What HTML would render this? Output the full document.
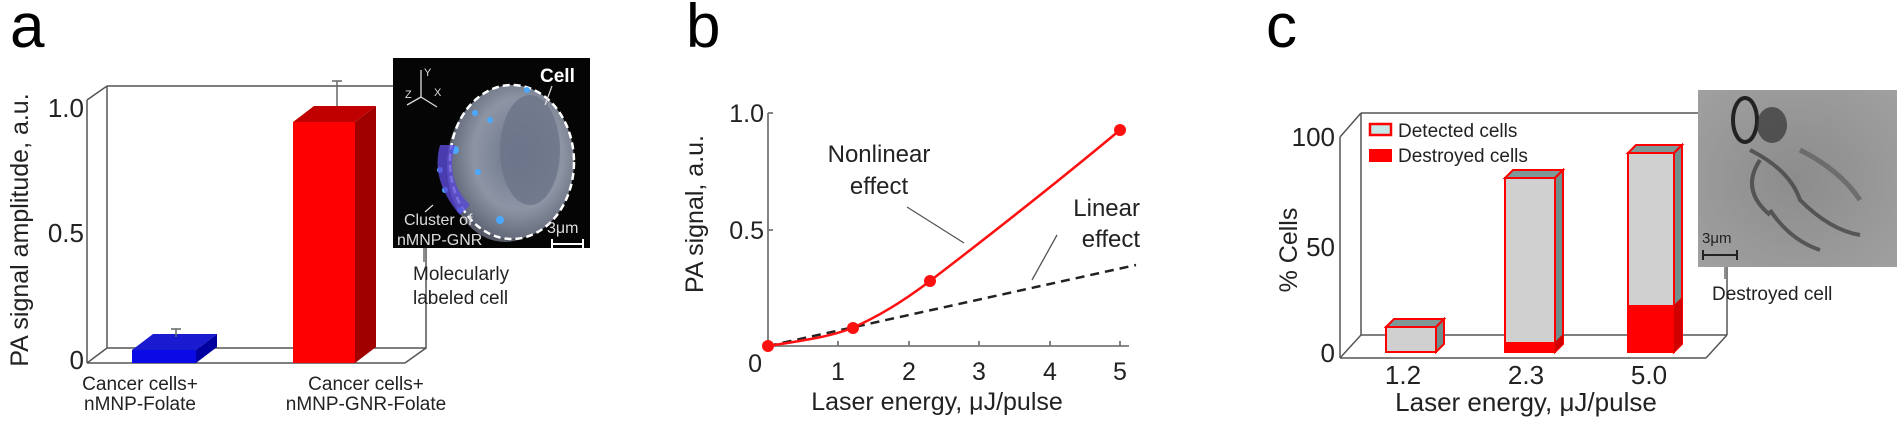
<!DOCTYPE html>
<html><head><meta charset="utf-8"><style>
html,body{margin:0;padding:0;background:#fff;}
svg{display:block;font-family:"Liberation Sans",Arial,sans-serif;}
</style></head><body>
<svg width="1897" height="422" viewBox="0 0 1897 422" xmlns="http://www.w3.org/2000/svg">
<defs>
<radialGradient id="cellg" cx="0.55" cy="0.45" r="0.6">
<stop offset="0" stop-color="#6a7488"/><stop offset="0.6" stop-color="#8d95a5"/><stop offset="1" stop-color="#5a6070"/>
</radialGradient>
<radialGradient id="photo" cx="0.5" cy="0.5" r="0.7">
<stop offset="0" stop-color="#8c8c8c"/><stop offset="1" stop-color="#a0a0a0"/>
</radialGradient>
</defs>

<!-- ========== Panel a ========== -->
<text x="10" y="47" font-size="62">a</text>
<g stroke="#555" stroke-width="1.5" fill="none">
<polyline points="107,86 426,86 426,348 107,348 107,86"/>
<line x1="87" y1="100" x2="87" y2="363"/>
<line x1="87" y1="100" x2="107" y2="86"/>
<line x1="87" y1="363" x2="405" y2="363"/>
<line x1="87" y1="363" x2="107" y2="348"/>
<line x1="405" y1="363" x2="426" y2="348"/>
</g>
<g font-size="26" text-anchor="end" fill="#222">
<text x="84" y="117">1.0</text>
<text x="84" y="242">0.5</text>
<text x="84" y="369">0</text>
</g>
<text transform="translate(28,230) rotate(-90)" font-size="25" text-anchor="middle" fill="#222">PA signal amplitude, a.u.</text>
<!-- blue bar -->
<polygon points="132,350 153,334 217,334 196,350" fill="#1a1ad0"/>
<polygon points="196,350 217,334 217,347 196,363" fill="#0000a0"/>
<rect x="132" y="350" width="64" height="13" fill="#0a0ae6"/>
<line x1="176" y1="337" x2="176" y2="329" stroke="#666" stroke-width="1.5"/>
<line x1="171" y1="329" x2="181" y2="329" stroke="#666" stroke-width="1.5"/>
<!-- red bar -->
<polygon points="293,122 314,106 376,106 355,122" fill="#c00000"/>
<polygon points="355,122 376,106 376,347 355,363" fill="#a00000"/>
<rect x="293" y="122" width="62" height="241" fill="#ff0000"/>
<line x1="337" y1="106" x2="337" y2="81" stroke="#666" stroke-width="1.5"/>
<line x1="332" y1="81" x2="342" y2="81" stroke="#666" stroke-width="1.5"/>
<g font-size="19" text-anchor="middle" fill="#222">
<text x="140" y="390">Cancer cells+</text>
<text x="140" y="410">nMNP-Folate</text>
<text x="366" y="390">Cancer cells+</text>
<text x="366" y="410">nMNP-GNR-Folate</text>
</g>
<!-- inset -->
<rect x="393" y="58" width="197" height="190" fill="#050505"/>
<ellipse cx="505" cy="166" rx="58" ry="76" fill="#555a66"/>
<ellipse cx="512" cy="162" rx="62" ry="77" fill="url(#cellg)"/>
<ellipse cx="530" cy="150" rx="30" ry="55" fill="#6b7488" opacity="0.8"/>
<ellipse cx="512" cy="162" rx="62" ry="77" fill="none" stroke="#fff" stroke-width="2.5" stroke-dasharray="7,4"/>
<g fill="#4aa8ff">
<circle cx="475" cy="113" r="3"/><circle cx="490" cy="120" r="3"/><circle cx="478" cy="172" r="3"/>
<circle cx="455" cy="150" r="4"/><circle cx="440" cy="170" r="3"/><circle cx="445" cy="190" r="3"/>
<circle cx="500" cy="220" r="4"/><circle cx="527" cy="90" r="3"/><circle cx="460" cy="210" r="3"/>
</g>
<path d="M440,145 Q430,180 460,215 L470,205 Q445,180 455,145 Z" fill="#5a4ad8" opacity="0.8"/>
<g stroke="#ddd" stroke-width="1.3">
<line x1="421" y1="70" x2="421" y2="97"/><line x1="421" y1="97" x2="437" y2="107"/><line x1="421" y1="97" x2="407" y2="105"/>
</g>
<text x="424" y="76" font-size="11" fill="#ddd">Y</text>
<text x="405" y="98" font-size="11" fill="#ddd">Z</text>
<text x="434" y="96" font-size="11" fill="#ddd">X</text>
<text x="540" y="82" font-size="19" font-weight="bold" fill="#fff">Cell</text>
<line x1="552" y1="86" x2="545" y2="105" stroke="#ddd" stroke-width="1.2"/>
<text x="404" y="225" font-size="16" fill="#ddd">Cluster of</text>
<text x="397" y="245" font-size="16" fill="#ddd">nMNP-GNR</text>
<line x1="433" y1="205" x2="425" y2="212" stroke="#ddd" stroke-width="1.2"/>
<text x="547" y="233" font-size="16" fill="#ddd">3μm</text>
<g stroke="#fff" stroke-width="2"><line x1="552" y1="244" x2="583" y2="244"/><line x1="552" y1="239" x2="552" y2="249"/><line x1="583" y1="239" x2="583" y2="249"/></g>
<line x1="424" y1="248" x2="424" y2="262" stroke="#555" stroke-width="1.3"/>
<text x="413" y="280" font-size="19" fill="#222">Molecularly</text>
<text x="413" y="304" font-size="19" fill="#222">labeled cell</text>

<!-- ========== Panel b ========== -->
<text x="686" y="47" font-size="62">b</text>
<g stroke="#777" stroke-width="1.8">
<line x1="768" y1="113" x2="768" y2="347"/>
<line x1="768" y1="346" x2="1129" y2="346"/>
<line x1="838" y1="346" x2="838" y2="341"/><line x1="909" y1="346" x2="909" y2="341"/>
<line x1="979" y1="346" x2="979" y2="341"/><line x1="1050" y1="346" x2="1050" y2="341"/><line x1="1120" y1="346" x2="1120" y2="341"/>
<line x1="768" y1="113" x2="773" y2="113"/><line x1="768" y1="230" x2="773" y2="230"/>
</g>
<g font-size="25" text-anchor="end" fill="#222">
<text x="764" y="122">1.0</text>
<text x="764" y="239">0.5</text>
<text x="762" y="372">0</text>
</g>
<g font-size="25" text-anchor="middle" fill="#222">
<text x="838" y="380">1</text><text x="909" y="380">2</text><text x="979" y="380">3</text><text x="1050" y="380">4</text><text x="1120" y="380">5</text>
<text x="937" y="410">Laser energy, μJ/pulse</text>
</g>
<text transform="translate(703,214) rotate(-90)" font-size="25" text-anchor="middle" fill="#222">PA signal, a.u.</text>
<line x1="768" y1="346" x2="1136" y2="265" stroke="#222" stroke-width="2.5" stroke-dasharray="9,6"/>
<path d="M768,346 C800,341 830,337 852,328 C880,316 905,300 930,281 C990,235 1060,180 1120,130" fill="none" stroke="#ff1010" stroke-width="2.5"/>
<g fill="#ff1010"><circle cx="768" cy="346" r="6"/><circle cx="853" cy="328" r="6"/><circle cx="930" cy="281" r="6"/><circle cx="1120" cy="130" r="6"/></g>
<g font-size="24" text-anchor="middle" fill="#222">
<text x="879" y="162">Nonlinear</text><text x="879" y="194">effect</text>
</g>
<line x1="907" y1="207" x2="964" y2="243" stroke="#555" stroke-width="1.3"/>
<g font-size="24" text-anchor="end" fill="#222">
<text x="1140" y="216">Linear</text><text x="1140" y="247">effect</text>
</g>
<line x1="1057" y1="235" x2="1032" y2="280" stroke="#555" stroke-width="1.3"/>

<!-- ========== Panel c ========== -->
<text x="1266" y="47" font-size="62">c</text>
<g stroke="#555" stroke-width="1.5" fill="none">
<line x1="1361" y1="113" x2="1698" y2="113"/>
<line x1="1361" y1="113" x2="1361" y2="335"/>
<line x1="1361" y1="335" x2="1727" y2="335"/>
<line x1="1727" y1="267" x2="1727" y2="335"/>
<line x1="1340" y1="137" x2="1340" y2="358"/>
<line x1="1340" y1="137" x2="1361" y2="113"/>
<line x1="1340" y1="358" x2="1706" y2="358"/>
<line x1="1340" y1="358" x2="1361" y2="335"/>
<line x1="1706" y1="358" x2="1727" y2="335"/>
</g>
<g font-size="26" text-anchor="end" fill="#222">
<text x="1335" y="146">100</text><text x="1335" y="256">50</text><text x="1335" y="362">0</text>
</g>
<text transform="translate(1297,250) rotate(-90)" font-size="25" text-anchor="middle" fill="#222">% Cells</text>
<!-- legend -->
<rect x="1370" y="124" width="21" height="11" fill="#c8e8e8" stroke="#ff0000" stroke-width="2.5"/>
<text x="1398" y="137" font-size="19" fill="#222">Detected cells</text>
<rect x="1369" y="149" width="23" height="13" fill="#ff0000"/>
<text x="1398" y="162" font-size="19" fill="#222">Destroyed cells</text>
<!-- bars -->
<g stroke="#ff0000" stroke-width="2">
<polygon points="1386,327 1394,319 1444,319 1436,327" fill="#7d9896"/>
<polygon points="1436,327 1444,319 1444,344 1436,352" fill="#6f8e8c"/>
<rect x="1386" y="327" width="50" height="25" fill="#d0d0d0"/>
<polygon points="1505,178 1513,170 1563,170 1555,178" fill="#7d9896"/>
<polygon points="1555,178 1563,170 1563,344 1555,352" fill="#6f8e8c"/>
<rect x="1505" y="178" width="50" height="174" fill="#d0d0d0"/>
<polygon points="1628,153 1636,145 1682,145 1674,153" fill="#7d9896"/>
<polygon points="1674,153 1682,145 1682,344 1674,352" fill="#6f8e8c"/>
<rect x="1628" y="153" width="46" height="199" fill="#d0d0d0"/>
</g>
<rect x="1506" y="342" width="48" height="10" fill="#ff0000"/>
<polygon points="1555,342 1563,334 1563,344 1555,352" fill="#d00000"/>
<rect x="1629" y="305" width="44" height="47" fill="#ff0000"/>
<polygon points="1674,305 1682,297 1682,344 1674,352" fill="#d00000"/>
<g font-size="26" text-anchor="middle" fill="#222">
<text x="1403" y="384">1.2</text><text x="1526" y="384">2.3</text><text x="1649" y="384">5.0</text>
<text x="1526" y="411">Laser energy, μJ/pulse</text>
</g>
<!-- photo -->
<rect x="1698" y="90" width="199" height="177" fill="url(#photo)"/>
<ellipse cx="1745" cy="120" rx="12" ry="22" fill="none" stroke="#222" stroke-width="4"/>
<ellipse cx="1772" cy="125" rx="15" ry="18" fill="#333" opacity="0.7"/>
<path d="M1750,150 Q1790,170 1800,200 Q1830,230 1860,235 M1770,210 Q1790,240 1820,250 M1760,160 Q1740,190 1770,215" fill="none" stroke="#3a3a3a" stroke-width="4" opacity="0.7"/>
<path d="M1800,150 Q1840,170 1860,200" fill="none" stroke="#555" stroke-width="5" opacity="0.6"/>
<text x="1702" y="243" font-size="15" fill="#222">3μm</text>
<g stroke="#222" stroke-width="2"><line x1="1703" y1="255" x2="1737" y2="255"/><line x1="1703" y1="250" x2="1703" y2="260"/><line x1="1737" y1="250" x2="1737" y2="260"/></g>
<line x1="1725" y1="267" x2="1725" y2="279" stroke="#555" stroke-width="1.3"/>
<text x="1712" y="300" font-size="19" fill="#222">Destroyed cell</text>
</svg>
</body></html>
